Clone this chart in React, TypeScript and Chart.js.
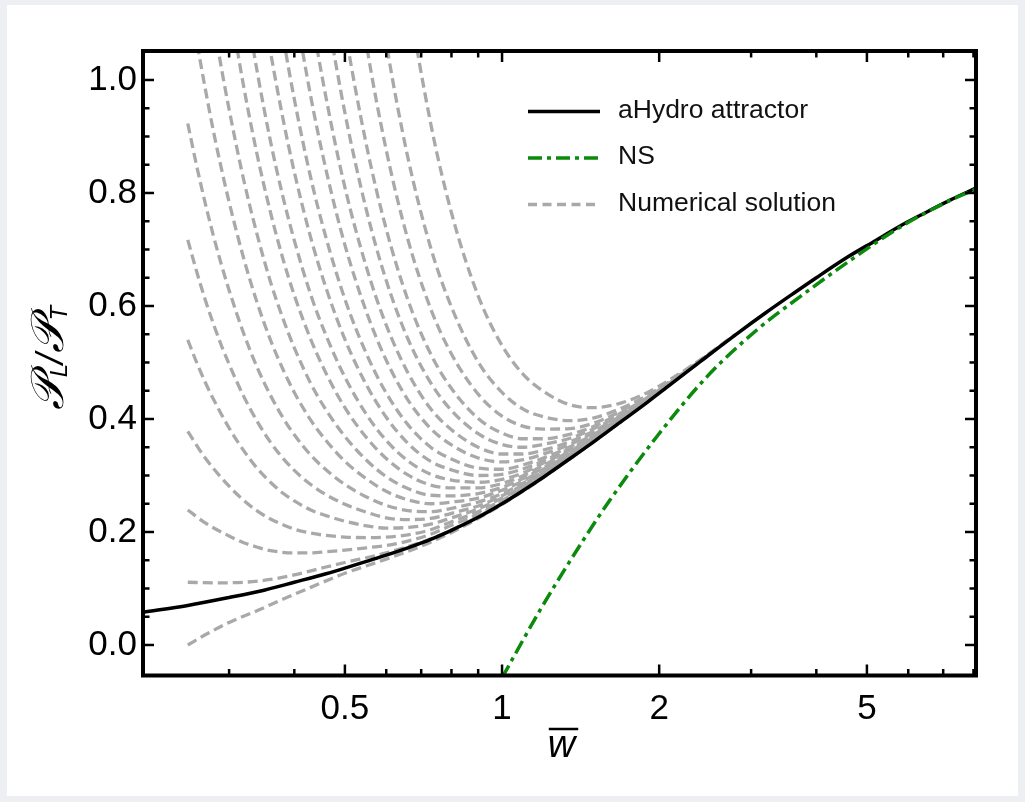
import React, { useEffect, useRef } from 'react';
import { Chart, registerables } from 'chart.js';

Chart.register(...registerables);

// ---------- axis ranges & ticks ----------
const xRange = [0.2052, 8.09];
const yRange = [-0.054, 1.0513];
const xMajorTicks = [0.5, 1, 2, 5];
const xMinorTicks = [0.3, 0.4, 0.6, 0.7, 0.8, 0.9, 3, 4, 6, 7, 8];
const yMajorTicks = [0, 0.2, 0.4, 0.6, 0.8, 1.0];
const yMinorTicks = [0.05, 0.1, 0.15, 0.25, 0.3, 0.35, 0.45, 0.5, 0.55, 0.65, 0.7, 0.75, 0.85, 0.9, 0.95];

// ---------- series ----------
const attractorW = [0.2052, 0.25, 0.3, 0.35, 0.4, 0.46, 0.5, 0.55, 0.6, 0.66, 0.73, 0.8, 0.9, 1.0, 1.1, 1.2, 1.35, 1.5, 1.7, 1.9, 2.1, 2.4, 2.8, 3.2, 3.6, 4.0, 4.6, 5.2, 5.8, 6.5, 7.2, 8.1];
const attractorV = [0.058, 0.070, 0.084, 0.097, 0.111, 0.126, 0.136, 0.148, 0.159, 0.172, 0.187, 0.203, 0.226, 0.250, 0.274, 0.297, 0.330, 0.360, 0.397, 0.430, 0.461, 0.502, 0.549, 0.588, 0.621, 0.650, 0.687, 0.716, 0.742, 0.766, 0.787, 0.809];

const nsW = [1.0, 1.183, 1.432, 1.611, 1.98, 2.47, 3.08, 3.73, 4.65, 5.8, 7.22, 8.2];
const nsV = [-0.058, 0.062, 0.186, 0.257, 0.369, 0.475, 0.558, 0.617, 0.681, 0.740, 0.787, 0.809];

const solution01 = [[0.25,0.000],[0.27,0.018],[0.30,0.040],[0.34,0.061],[0.38,0.081],[0.43,0.102],[0.50,0.127],[0.60,0.152],[0.73,0.182],[0.90,0.224],[1.10,0.273],[1.35,0.330],[1.70,0.397]];
const solution02 = [[0.25,0.111],[0.28,0.110],[0.32,0.111],[0.36,0.116],[0.40,0.124],[0.46,0.138],[0.50,0.146],[0.60,0.163],[0.73,0.188],[0.90,0.227],[1.10,0.275],[1.35,0.330],[1.70,0.397]];
const solution03 = [[0.25,0.239],[0.27,0.216],[0.30,0.193],[0.32,0.181],[0.34,0.173],[0.36,0.167],[0.40,0.163],[0.43,0.163],[0.46,0.165],[0.50,0.168],[0.55,0.172],[0.60,0.176],[0.66,0.184],[0.73,0.196],[0.80,0.212],[0.90,0.231],[1.00,0.253],[1.10,0.276],[1.20,0.300],[1.35,0.331],[1.70,0.397]];
const solution04 = [[0.25,0.378],[0.27,0.331],[0.30,0.281],[0.32,0.256],[0.34,0.237],[0.36,0.223],[0.38,0.213],[0.40,0.205],[0.43,0.198],[0.46,0.194],[0.50,0.191],[0.55,0.190],[0.60,0.191],[0.66,0.195],[0.73,0.204],[0.80,0.218],[0.90,0.236],[1.00,0.256],[1.10,0.278],[1.20,0.302],[1.35,0.332],[1.50,0.361],[1.70,0.398]];
const solution05 = [[0.25,0.540],[0.26,0.500],[0.27,0.465],[0.28,0.435],[0.30,0.384],[0.32,0.344],[0.34,0.312],[0.36,0.288],[0.38,0.269],[0.40,0.255],[0.43,0.239],[0.46,0.229],[0.50,0.219],[0.55,0.211],[0.60,0.207],[0.66,0.208],[0.73,0.214],[0.80,0.225],[0.90,0.241],[1.00,0.260],[1.10,0.281],[1.20,0.304],[1.35,0.334],[1.50,0.362],[1.70,0.398],[2.10,0.461]];
const solution06 = [[0.25,0.717],[0.26,0.661],[0.27,0.611],[0.28,0.568],[0.29,0.530],[0.30,0.497],[0.32,0.440],[0.34,0.395],[0.36,0.359],[0.38,0.331],[0.40,0.309],[0.43,0.284],[0.46,0.266],[0.50,0.249],[0.55,0.235],[0.60,0.225],[0.66,0.222],[0.73,0.224],[0.80,0.233],[0.90,0.246],[1.00,0.264],[1.10,0.284],[1.20,0.306],[1.35,0.335],[1.50,0.363],[1.70,0.399],[2.10,0.461]];
const solution07 = [[0.25,0.923],[0.26,0.848],[0.27,0.782],[0.28,0.724],[0.29,0.673],[0.30,0.628],[0.32,0.551],[0.34,0.490],[0.36,0.442],[0.38,0.403],[0.40,0.372],[0.43,0.336],[0.46,0.310],[0.50,0.284],[0.55,0.262],[0.60,0.247],[0.66,0.238],[0.73,0.236],[0.80,0.242],[0.90,0.253],[1.00,0.268],[1.10,0.287],[1.20,0.308],[1.35,0.337],[1.50,0.364],[1.70,0.399],[2.10,0.462]];
const solution08 = [[0.25,1.168],[0.26,1.070],[0.27,0.985],[0.28,0.909],[0.29,0.843],[0.30,0.784],[0.32,0.684],[0.34,0.604],[0.36,0.540],[0.38,0.489],[0.40,0.447],[0.43,0.398],[0.46,0.362],[0.50,0.325],[0.55,0.294],[0.60,0.272],[0.66,0.257],[0.73,0.250],[0.80,0.253],[0.90,0.260],[1.00,0.274],[1.10,0.291],[1.20,0.311],[1.35,0.338],[1.50,0.365],[1.70,0.400],[2.10,0.462]];
const solution09 = [[0.26,1.304],[0.27,1.197],[0.28,1.104],[0.29,1.021],[0.30,0.948],[0.32,0.823],[0.34,0.724],[0.36,0.643],[0.38,0.579],[0.40,0.526],[0.43,0.463],[0.46,0.416],[0.50,0.369],[0.55,0.327],[0.60,0.298],[0.66,0.277],[0.73,0.265],[0.80,0.264],[0.90,0.268],[1.00,0.279],[1.10,0.295],[1.20,0.314],[1.35,0.340],[1.50,0.367],[1.70,0.401],[1.90,0.432],[2.10,0.462]];
const solution10 = [[0.27,1.450],[0.28,1.335],[0.29,1.233],[0.30,1.142],[0.32,0.988],[0.34,0.865],[0.36,0.766],[0.38,0.685],[0.40,0.619],[0.43,0.541],[0.46,0.481],[0.50,0.420],[0.55,0.367],[0.60,0.330],[0.66,0.301],[0.73,0.283],[0.80,0.278],[0.90,0.278],[1.00,0.286],[1.10,0.300],[1.20,0.318],[1.35,0.343],[1.50,0.368],[1.70,0.401],[1.90,0.432],[2.10,0.462]];
const solution11 = [[0.29,1.451],[0.30,1.343],[0.32,1.159],[0.34,1.012],[0.36,0.892],[0.38,0.795],[0.40,0.716],[0.43,0.620],[0.46,0.548],[0.50,0.474],[0.55,0.408],[0.60,0.362],[0.66,0.326],[0.73,0.302],[0.80,0.292],[0.90,0.288],[1.00,0.293],[1.10,0.305],[1.20,0.322],[1.35,0.345],[1.50,0.370],[1.70,0.402],[1.90,0.433],[2.10,0.462],[2.40,0.502]];
const solution12 = [[0.30,1.595],[0.32,1.373],[0.34,1.196],[0.36,1.051],[0.38,0.934],[0.40,0.837],[0.43,0.721],[0.46,0.632],[0.50,0.541],[0.55,0.460],[0.60,0.403],[0.66,0.357],[0.73,0.325],[0.80,0.310],[0.90,0.300],[1.00,0.302],[1.10,0.312],[1.20,0.326],[1.35,0.348],[1.50,0.371],[1.70,0.403],[1.90,0.433],[2.10,0.463],[2.40,0.502]];
const solution13 = [[0.32,1.601],[0.34,1.391],[0.36,1.220],[0.38,1.081],[0.40,0.966],[0.43,0.827],[0.46,0.721],[0.50,0.612],[0.55,0.515],[0.60,0.446],[0.66,0.390],[0.73,0.350],[0.80,0.329],[0.90,0.313],[1.00,0.311],[1.10,0.319],[1.20,0.331],[1.35,0.351],[1.50,0.373],[1.70,0.404],[1.90,0.434],[2.10,0.463],[2.40,0.503]];
const solution14 = [[0.34,1.655],[0.36,1.448],[0.38,1.279],[0.40,1.139],[0.43,0.971],[0.46,0.841],[0.50,0.708],[0.55,0.589],[0.60,0.504],[0.66,0.434],[0.73,0.383],[0.80,0.354],[0.90,0.331],[1.00,0.324],[1.10,0.328],[1.20,0.338],[1.35,0.355],[1.50,0.376],[1.70,0.406],[1.90,0.435],[2.10,0.463],[2.40,0.503]];
const solution15 = [[0.36,1.690],[0.38,1.489],[0.40,1.324],[0.43,1.123],[0.46,0.969],[0.50,0.810],[0.55,0.668],[0.60,0.566],[0.66,0.482],[0.73,0.418],[0.80,0.381],[0.90,0.350],[1.00,0.338],[1.10,0.338],[1.20,0.345],[1.35,0.360],[1.50,0.379],[1.70,0.407],[1.90,0.435],[2.10,0.464],[2.40,0.503]];
const solution16 = [[0.40,1.561],[0.43,1.320],[0.46,1.133],[0.50,0.942],[0.55,0.769],[0.60,0.645],[0.66,0.542],[0.73,0.464],[0.80,0.415],[0.90,0.374],[1.00,0.355],[1.10,0.350],[1.20,0.355],[1.35,0.366],[1.50,0.383],[1.70,0.409],[1.90,0.437],[2.10,0.464],[2.40,0.503]];
const solution17 = [[0.43,1.542],[0.46,1.319],[0.50,1.091],[0.55,0.884],[0.60,0.736],[0.66,0.611],[0.73,0.515],[0.80,0.454],[0.90,0.401],[1.00,0.375],[1.10,0.365],[1.20,0.365],[1.35,0.373],[1.50,0.387],[1.70,0.412],[1.90,0.438],[2.10,0.465],[2.40,0.503]];
const solution18 = [[0.46,1.609],[0.50,1.322],[0.55,1.062],[0.60,0.876],[0.66,0.718],[0.73,0.595],[0.80,0.515],[0.90,0.444],[1.00,0.405],[1.10,0.387],[1.20,0.382],[1.35,0.383],[1.50,0.393],[1.70,0.415],[1.90,0.440],[2.10,0.466],[2.40,0.504]];
const solution19 = [[0.50,1.635],[0.55,1.304],[0.60,1.066],[0.66,0.863],[0.73,0.703],[0.80,0.598],[0.90,0.501],[1.00,0.447],[1.10,0.417],[1.20,0.404],[1.35,0.397],[1.50,0.402],[1.70,0.420],[1.90,0.442],[2.10,0.467],[2.40,0.504],[2.80,0.549]];
const solution20 = [[0.60,1.451],[0.66,1.157],[0.73,0.923],[0.80,0.765],[0.90,0.618],[1.00,0.530],[1.10,0.478],[1.20,0.449],[1.35,0.425],[1.50,0.420],[1.70,0.429],[1.90,0.447],[2.10,0.470],[2.40,0.505],[2.80,0.550]];

const numericalSolutions = [
  solution01, solution02, solution03, solution04, solution05, solution06, solution07,
  solution08, solution09, solution10, solution11, solution12, solution13, solution14,
  solution15, solution16, solution17, solution18, solution19, solution20,
];

const legendLabels = ['aHydro attractor', 'NS', 'Numerical solution'];

// ---------- styles ----------
const BLACK = '#000000';
const GREEN = '#0b8a0b';
const GREY = '#a9a9a9';
const GREEN_DASH = [14, 5, 4, 5];
const GREY_DASH = [10, 5];
const SANS = "'Liberation Sans', Arial, sans-serif";

const decorPlugin = {
  id: 'decor',
  beforeDraw(chart: any) {
    const ctx = chart.ctx;
    ctx.save();
    ctx.fillStyle = '#edeff2';
    ctx.fillRect(0, 0, chart.width, chart.height);
    ctx.fillStyle = '#ffffff';
    ctx.fillRect(7, 5, chart.width - 14, chart.height - 11);
    ctx.restore();
  },
  afterDraw(chart: any) {
    const ctx = chart.ctx;
    const a = chart.chartArea;
    const xs = chart.scales.x;
    const ys = chart.scales.y;
    ctx.save();
    ctx.setLineDash([]);
    ctx.strokeStyle = BLACK;
    ctx.lineCap = 'butt';
    const seg = (x1: number, y1: number, x2: number, y2: number) => {
      ctx.beginPath();
      ctx.moveTo(x1, y1);
      ctx.lineTo(x2, y2);
      ctx.stroke();
    };
    ctx.lineWidth = 2.5;
    const xTick = (v: number, len: number) => {
      const p = xs.getPixelForValue(v);
      seg(p, a.bottom, p, a.bottom - len);
      seg(p, a.top, p, a.top + len);
    };
    const yTick = (v: number, len: number) => {
      const p = ys.getPixelForValue(v);
      seg(a.left, p, a.left + len, p);
      seg(a.right, p, a.right - len, p);
    };
    xMajorTicks.forEach((v) => xTick(v, 11));
    xMinorTicks.forEach((v) => xTick(v, 6.5));
    yMajorTicks.forEach((v) => yTick(v, 11));
    yMinorTicks.forEach((v) => yTick(v, 6.5));
    ctx.lineWidth = 4;
    ctx.strokeRect(a.left, a.top, a.right - a.left, a.bottom - a.top);

    // legend
    const legendStyles = [
      { color: BLACK, dash: [] as number[], y: 111.5, w: 3.5 },
      { color: GREEN, dash: GREEN_DASH, y: 158, w: 3.5 },
      { color: GREY, dash: [9, 5.5], y: 204.5, w: 3.3 },
    ];
    legendLabels.forEach((label, i) => {
      const s = legendStyles[i];
      ctx.lineWidth = s.w;
      ctx.strokeStyle = s.color;
      ctx.setLineDash(s.dash);
      seg(528, s.y, 600, s.y);
      ctx.setLineDash([]);
      ctx.fillStyle = '#111111';
      ctx.font = `26.5px ${SANS}`;
      ctx.textAlign = 'left';
      ctx.textBaseline = 'middle';
      ctx.fillText(label, 618, s.y - 1);
    });

    // x title: w with overline
    ctx.fillStyle = BLACK;
    ctx.font = `italic 38px ${SANS}`;
    ctx.textAlign = 'center';
    ctx.textBaseline = 'alphabetic';
    const cx = (a.left + a.right) / 2 + 2;
    ctx.fillText('w', cx, 757);
    const ww = ctx.measureText('w').width;
    ctx.strokeStyle = BLACK;
    ctx.lineWidth = 2.5;
    seg(cx - ww / 2 + 1, 729, cx + ww / 2 + 3, 729);

    // y title: P_L / P_T (script P)
    ctx.save();
    ctx.translate(63, 358);
    ctx.rotate(-Math.PI / 2);
    ctx.textAlign = 'left';
    ctx.textBaseline = 'alphabetic';
    const big = "italic 46px 'DejaVu Serif', 'DejaVu Sans', serif";
    const small = `italic 24px ${SANS}`;
    const parts = [
      { t: '\u{1D4AB}', f: big, dy: 0 },
      { t: 'L', f: small, dy: 4 },
      { t: '/', f: `italic 38px ${SANS}`, dy: 0 },
      { t: '\u{1D4AB}', f: big, dy: 0 },
      { t: 'T', f: small, dy: 4 },
    ];
    let total = 0;
    parts.forEach((p) => { ctx.font = p.f; total += ctx.measureText(p.t).width; });
    let px = -total / 2;
    parts.forEach((p) => {
      ctx.font = p.f;
      ctx.fillText(p.t, px, p.dy);
      px += ctx.measureText(p.t).width;
    });
    ctx.restore();

    ctx.restore();
  },
};

const toPoints = (ws: number[], vs: number[]) => ws.map((w, i) => ({ x: w, y: vs[i] }));

export default function App() {
  const ref = useRef<HTMLCanvasElement | null>(null);

  useEffect(() => {
    if (!ref.current) return;
    const datasets: any[] = [
      {
        label: 'NS',
        data: toPoints(nsW, nsV),
        borderColor: GREEN,
        borderWidth: 3.5,
        borderDash: GREEN_DASH,
        order: 0,
      },
      {
        label: 'aHydro attractor',
        data: toPoints(attractorW, attractorV),
        borderColor: BLACK,
        borderWidth: 3.5,
        order: 1,
      },
      ...numericalSolutions.map((sol, i) => ({
        label: i === 0 ? 'Numerical solution' : `Numerical solution ${i + 1}`,
        data: sol.map(([w, v]) => ({ x: w, y: v })),
        borderColor: GREY,
        borderWidth: 3.3,
        borderDash: GREY_DASH,
        order: 2,
      })),
    ];

    const chart = new Chart(ref.current, {
      type: 'line',
      data: { datasets },
      options: {
        animation: false,
        responsive: false,
        maintainAspectRatio: false,
        layout: { padding: { top: 51, right: 49, left: 0, bottom: 0 } },
        plugins: { legend: { display: false }, tooltip: { enabled: false } },
        elements: {
          point: { radius: 0, hoverRadius: 0 },
          line: { capBezierPoints: false, cubicInterpolationMode: 'monotone', fill: false },
        },
        scales: {
          x: {
            type: 'logarithmic',
            min: xRange[0],
            max: xRange[1],
            afterFit: (s: any) => { s.height = 126.5; },
            afterBuildTicks: (s: any) => {
              s.ticks = [...xMinorTicks, ...xMajorTicks].sort((p, q) => p - q).map((v) => ({ value: v }));
            },
            grid: { display: false, drawTicks: false },
            border: { display: false },
            ticks: {
              autoSkip: false,
              maxRotation: 0,
              minRotation: 0,
              padding: 13,
              color: BLACK,
              font: { family: SANS, size: 35 },
              callback: (v: any) => (xMajorTicks.includes(Number(v)) ? String(v) : ''),
            },
          },
          y: {
            type: 'linear',
            min: yRange[0],
            max: yRange[1],
            afterFit: (s: any) => { s.width = 143; },
            afterBuildTicks: (s: any) => {
              s.ticks = yMajorTicks.map((v) => ({ value: v }));
            },
            grid: { display: false, drawTicks: false },
            border: { display: false },
            ticks: {
              padding: 6,
              color: BLACK,
              font: { family: SANS, size: 35 },
              callback: (v: any) => Number(v).toFixed(1),
            },
          },
        },
      } as any,
      plugins: [decorPlugin],
    });
    return () => chart.destroy();
  }, []);

  return (
    <div style={{ position: 'fixed', left: 0, top: 0, width: 1025, height: 802 }}>
      <canvas ref={ref} width={1025} height={802} style={{ display: 'block', width: 1025, height: 802 }} />
    </div>
  );
}
